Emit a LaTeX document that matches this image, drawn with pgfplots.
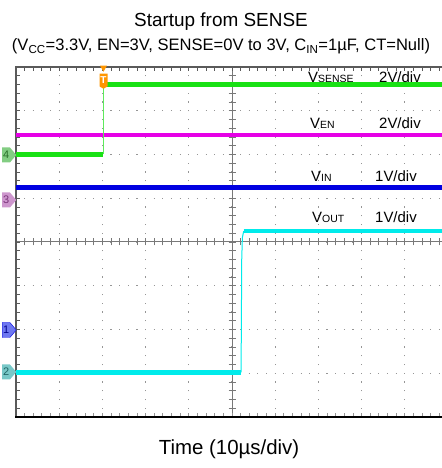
\documentclass[border=0pt]{standalone}
\usepackage{pgfplots}
\pgfplotsset{compat=1.18}
\usepackage{fontspec}
\setmainfont{Liberation Sans}
\usetikzlibrary{shapes.symbols,shapes.geometric}

\definecolor{trgreen}{RGB}{25,225,20}
\definecolor{trmag}{RGB}{230,0,230}
\definecolor{trblue}{RGB}{0,0,225}
\definecolor{trcyan}{RGB}{0,235,235}
\definecolor{gridc}{RGB}{150,150,150}
\definecolor{crossc}{RGB}{120,120,120}
\definecolor{borderc}{RGB}{90,90,90}
\definecolor{trig}{RGB}{255,150,0}

\newcommand{\sm}[1]{{\fontsize{10.5}{10.5}\selectfont #1}}

\begin{document}
\begin{tikzpicture}[x=1bp,y=1bp]
\useasboundingbox (0,0) rectangle (442,468);

% graticule: 10 x 8 divisions, 5 subdivisions each
\begin{scope}[shift={(16,51)}, x=43.2bp, y=43.75bp]
  \foreach \i in {1,...,9}
    \draw[gridc, line width=1.1bp, dash pattern=on 1.1bp off 7.65bp, dash phase=0.55bp] (\i,0) -- (\i,8);
  \foreach \j in {1,...,7}
    \draw[gridc, line width=1.1bp, dash pattern=on 1.1bp off 7.54bp, dash phase=0.55bp] (0,\j) -- (9.8611,\j);
  % centre crosshair
  \draw[crossc, line width=1bp] (5,0) -- (5,8);
  \draw[crossc, line width=1bp] (0,4) -- (9.8611,4);
  \foreach \k in {1,...,39}
    \draw[crossc, line width=0.9bp] (5,\k/5) ++(-3.5bp,0) -- ++(7bp,0);
  \foreach \k in {1,...,49}
    \draw[crossc, line width=0.9bp] (\k/5,4) ++(0,-3.5bp) -- ++(0,7bp);
  % border ticks
  \foreach \k in {1,...,39}
    \draw[borderc, line width=0.9bp] (0,\k/5) -- ++(4bp,0);
  \foreach \k in {1,...,49}
    \draw[borderc, line width=0.9bp] (\k/5,8) -- ++(0,-4bp);
  \foreach \k in {1,...,49}
    \draw[gridc, line width=0.9bp] (\k/5,0) -- ++(0,4bp);
  % frame
  \draw[borderc, line width=1.2bp] (0,0) -- (0,8) -- (9.8611,8);
  \draw[black, line width=2.4bp] (-0.02,0) -- (9.8611,0);
\end{scope}

\begin{axis}[at={(16bp,51bp)}, anchor=south west, scale only axis,
  width=426bp, height=350bp,
  xmin=0, xmax=9.8611, ymin=0, ymax=8,
  hide axis, clip=true]
  % V_EN (magenta)
  \addplot[trmag, line width=4.6bp] coordinates {(0,6.45) (9.8611,6.45)};
  % V_IN (blue)
  \addplot[trblue, line width=4.8bp] coordinates {(0,5.24) (9.8611,5.24)};
  % V_SENSE (green)
  \addplot[trgreen, line width=4.6bp] coordinates {(0,6.0) (2.02,6.0)};
  \addplot[trgreen!70!white, line width=0.7bp] coordinates {(2.03,6.0) (2.03,7.6)};
  \addplot[trgreen, line width=4.6bp] coordinates {(2.06,7.6) (9.8611,7.6)};
  % V_OUT (cyan)
  \addplot[trcyan, line width=4.6bp] coordinates {(0,1.02) (5.21,1.02)};
  \addplot[trcyan, line width=1bp] coordinates {(5.21,1.02) (5.225,3.6) (5.24,4.1) (5.27,4.25)};
  \addplot[trcyan, line width=4.6bp] coordinates {(5.27,4.25) (9.8611,4.25)};
\end{axis}

% channel reference tags
\tikzset{chtag/.style={signal, signal to=east, signal pointer angle=100, inner sep=0.8bp,
  minimum height=15bp, minimum width=14bp, font=\fontsize{11}{11}\selectfont, anchor=east}}
\node[chtag, fill={rgb,255:red,130;green,205;blue,130},
  text={rgb,255:red,40;green,110;blue,40}] at (16.5,313) {4};
\node[chtag, fill={rgb,255:red,205;green,150;blue,205},
  text={rgb,255:red,120;green,50;blue,120}] at (16.5,268) {3};
\node[chtag, fill={rgb,255:red,110;green,120;blue,240},
  draw=trblue, text={rgb,255:red,0;green,0;blue,140}] at (16.5,138) {1};
\node[chtag, fill={rgb,255:red,120;green,200;blue,200},
  text={rgb,255:red,30;green,100;blue,100}] at (16.5,96) {2};

% trigger marker
\node[regular polygon, regular polygon sides=3, shape border rotate=180, fill=trig,
  inner sep=0pt, minimum size=8bp, anchor=north] at (103.5,402.5) {};
\node[signal, signal to=south, signal pointer angle=120, fill=trig, text=white, inner sep=0.6bp,
  minimum width=8bp, minimum height=15bp, font=\fontsize{10}{10}\selectfont\bfseries] at (103.5,388) {T};

% channel captions
\begin{scope}[every node/.style={inner sep=0pt, anchor=base west, font=\fontsize{15}{15}\selectfont}]
  \node at (308,385) {V\sm{SENSE}};
  \node at (379,385) {2V/div};
  \node at (310,339) {V\sm{EN}};
  \node at (379,339) {2V/div};
  \node at (311,286) {V\sm{IN}};
  \node at (375,286) {1V/div};
  \node at (312,245) {V\sm{OUT}};
  \node at (375,245) {1V/div};
\end{scope}

% titles
\node[inner sep=0pt, anchor=base, font=\fontsize{19}{19}\selectfont] at (221,441) {Startup from SENSE};
\node[inner sep=0pt, anchor=base, font=\fontsize{16.6}{16.6}\selectfont] at (221,417)
  {(V\textsubscript{CC}=3.3V, EN=3V, SENSE=0V to 3V, C\textsubscript{IN}=1µF, CT=Null)};
\node[inner sep=0pt, anchor=base, font=\fontsize{20.5}{20.5}\selectfont] at (229,13) {Time (10µs/div)};
\end{tikzpicture}
\end{document}
